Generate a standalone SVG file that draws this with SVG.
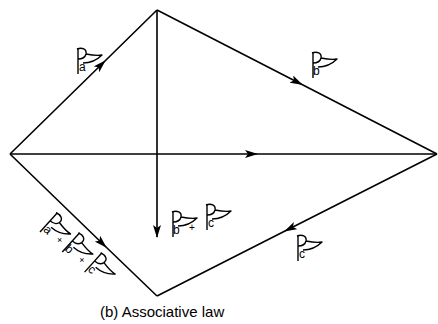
<svg xmlns="http://www.w3.org/2000/svg" width="438" height="324" viewBox="0 0 438 324">
<style>
.edge{fill:none;stroke:#000;stroke-width:1.6}
.fl{fill:none;stroke:#000;stroke-width:1.4;stroke-linejoin:round}
.lt{font-family:"Liberation Sans",Arial,sans-serif;font-size:12px;fill:#000}
.pl{font-family:"Liberation Sans",Arial,sans-serif;font-size:10px;fill:#000}
.cap{font-family:"Liberation Sans",Arial,sans-serif;font-size:15px;fill:#000}
</style>
<defs>
<marker id="ah" markerWidth="14" markerHeight="8" refX="12" refY="4" orient="auto" markerUnits="userSpaceOnUse">
<path d="M0,0 L13,4 L0,8 L3,4 Z" fill="#000"/>
</marker>
<g id="flag">
<path class="fl" d="M0,0 V-26"/>
<path class="fl" d="M-1,-25 C4,-27 9,-25 8,-20 C7,-16 3,-15 0,-15 M8,-20 C13,-19 18,-18 24,-19 C20,-15 15,-11 5,-11"/>
</g>
</defs>
<g id="connectors">
<path class="edge" d="M10,154 L105,61 L157,10" marker-mid="url(#ah)"/>
<path class="edge" d="M157,10 L302,84.5 L437,154" marker-mid="url(#ah)"/>
<path class="edge" d="M437,154 L285,231 L157,296" marker-mid="url(#ah)"/>
<path class="edge" d="M10,154 L106,247 L157,296" marker-mid="url(#ah)"/>
<path class="edge" d="M10,154 L257,154 L437,154" marker-mid="url(#ah)"/>
<path class="edge" d="M157,10 L157,237" marker-end="url(#ah)"/>
</g>
<g id="label-a">
<use href="#flag" x="78" y="74"/>
<text class="lt" x="79" y="71">a</text>
</g>
<g id="label-b">
<use href="#flag" x="313" y="78"/>
<text class="lt" x="313" y="75">b</text>
</g>
<g id="label-c">
<use href="#flag" x="298" y="261"/>
<text class="lt" x="299" y="258">c</text>
</g>
<g id="label-bc">
<use href="#flag" x="173" y="237"/>
<text class="lt" x="173" y="234">b</text>
<text class="pl" x="189" y="231">+</text>
<use href="#flag" x="207" y="230"/>
<text class="lt" x="208" y="227">c</text>
</g>
<g id="label-abc" transform="translate(40,232) rotate(42)">
<use href="#flag" x="0" y="0"/>
<text class="lt" x="1" y="-3">a</text>
<text class="pl" x="17" y="-4">+</text>
<use href="#flag" x="30" y="0"/>
<text class="lt" x="30" y="-3">b</text>
<text class="pl" x="47" y="-4">+</text>
<use href="#flag" x="60" y="0"/>
<text class="lt" x="61" y="-3">c</text>
</g>
<g id="caption">
<text class="cap" x="100" y="317">(b) Associative law</text>
</g>
</svg>
